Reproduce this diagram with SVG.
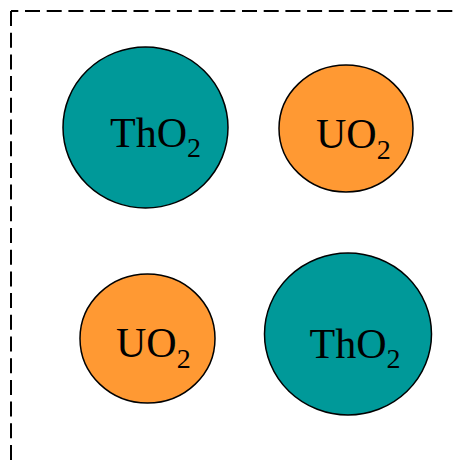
<svg xmlns="http://www.w3.org/2000/svg" width="458" height="462" viewBox="0 0 458 462">
<style>
.border{fill:none;stroke:#000;stroke-width:2;stroke-dasharray:15 6.7}
.tho{fill:#009999;stroke:#000;stroke-width:1.5}
.uo{fill:#FF9933;stroke:#000;stroke-width:1.5}
.lbl{font-family:"Liberation Serif","Times New Roman",serif;font-size:42px;fill:#000}
.sub{font-size:28px}
</style>
<rect width="458" height="462" fill="#fff"/>
<g id="connectors">
<path class="border" d="M11,11 V462"/>
<path class="border" d="M11,11 H458" stroke-dashoffset="7.7"/>
</g>
<g id="tho2-top-left">
<ellipse class="tho" cx="145.5" cy="127.5" rx="82.5" ry="80.5"/>
<text class="lbl" x="110" y="147">ThO<tspan class="sub" dy="10">2</tspan></text>
</g>
<g id="uo2-top-right">
<ellipse class="uo" cx="346" cy="128.5" rx="67" ry="63.5"/>
<text class="lbl" x="316" y="148">UO<tspan class="sub" dy="11">2</tspan></text>
</g>
<g id="uo2-bottom-left">
<ellipse class="uo" cx="147.5" cy="338.5" rx="67.5" ry="64.5"/>
<text class="lbl" x="116" y="357">UO<tspan class="sub" dy="11">2</tspan></text>
</g>
<g id="tho2-bottom-right">
<ellipse class="tho" cx="348" cy="334" rx="83.5" ry="81"/>
<text class="lbl" x="309.5" y="358">ThO<tspan class="sub" dy="10">2</tspan></text>
</g>
</svg>
